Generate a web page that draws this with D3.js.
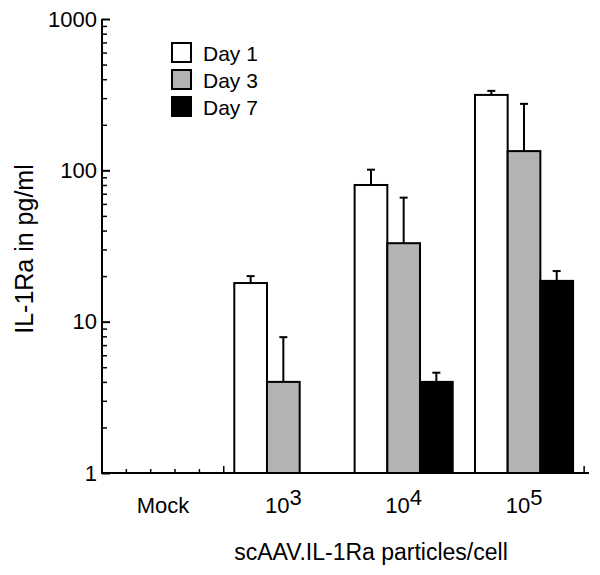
<!DOCTYPE html>
<html>
<head>
<meta charset="utf-8">
<script src="https://cdn.jsdelivr.net/npm/d3@7"></script>
<style>
  html, body { margin: 0; padding: 0; background: #fff; }
  svg { display: block; }
  text { font-family: "Liberation Sans", Arial, Helvetica, sans-serif; fill: #000; }
</style>
</head>
<body>
<svg id="chart" width="600" height="575"></svg>
<script>
// ---- data ----
const categories = ["Mock", "1e3", "1e4", "1e5"];
const tickBase = ["Mock", "10", "10", "10"];
const tickExp = ["", "3", "4", "5"];
const seriesNames = ["Day 1", "Day 3", "Day 7"];
const seriesColors = ["#ffffff", "#b3b3b3", "#000000"];
const day1 = [null, 18.0, 80, 315];
const day1Sd = [null, 2.0, 21, 20];
const day3 = [null, 4.0, 33, 134];
const day3Sd = [null, 3.9, 33, 141];
const day7 = [null, null, 4.0, 18.6];
const day7Sd = [null, null, 0.6, 3.0];
const yMajorTicks = [1, 10, 100, 1000];
const yTickLabels = ["1", "10", "100", "1000"];
const xTitle = "scAAV.IL-1Ra particles/cell";
const yTitle = "IL-1Ra in pg/ml";
const xSmallTicks = [1, 2, 3, 4];
const xTallTicks = [5, 19.8];

const seriesValues = [day1, day3, day7];
const seriesSd = [day1Sd, day3Sd, day7Sd];

const svg = d3.select("#chart");
const axisLeftX = 102, axisRightX = 589;
const y = d3.scaleLog().domain([1, 1000]).range([473, 19]);
const x0 = d3.scaleBand().domain(categories).range([103, 584])
  .paddingInner(0.185).paddingOuter(0.091);
const x1 = d3.scaleBand().domain(seriesNames).range([0, x0.bandwidth()]);
const xAxisUnits = d3.scaleLinear().domain([0, 20]).range([axisLeftX, axisRightX]);

const barData = [];
categories.forEach((c, i) => {
  seriesNames.forEach((s, j) => {
    const v = seriesValues[j][i];
    if (v != null) barData.push({ c, s, j, v, sd: seriesSd[j][i] });
  });
});

const g = svg.append("g");
g.selectAll("line.st").data(xSmallTicks).join("line")
  .attr("x1", d => xAxisUnits(d)).attr("x2", d => xAxisUnits(d))
  .attr("y1", y(1)).attr("y2", y(1) - 4)
  .attr("stroke", "#000").attr("stroke-width", 1.5);
g.selectAll("line.tt").data(xTallTicks).join("line")
  .attr("x1", d => xAxisUnits(d)).attr("x2", d => xAxisUnits(d))
  .attr("y1", y(1)).attr("y2", y(1) - 7)
  .attr("stroke", "#000").attr("stroke-width", 1.5);

const eb = svg.append("g");
barData.forEach(d => {
  const cx = x0(d.c) + x1(d.s) + x1.bandwidth() / 2;
  eb.append("line")
    .attr("x1", cx).attr("x2", cx)
    .attr("y1", y(d.v)).attr("y2", y(d.v + d.sd))
    .attr("stroke", "#000").attr("stroke-width", 2);
  eb.append("line")
    .attr("x1", cx - 4).attr("x2", cx + 4)
    .attr("y1", y(d.v + d.sd)).attr("y2", y(d.v + d.sd))
    .attr("stroke", "#000").attr("stroke-width", 2);
});

svg.append("g").selectAll("rect").data(barData).join("rect")
  .attr("x", d => x0(d.c) + x1(d.s))
  .attr("width", x1.bandwidth())
  .attr("y", d => y(d.v))
  .attr("height", d => y(1) - y(d.v))
  .attr("fill", d => seriesColors[d.j])
  .attr("stroke", "#000").attr("stroke-width", 2);

const yMinor = [];
for (let dec = 1; dec < 1000; dec *= 10) for (let k = 2; k <= 9; k++) yMinor.push(dec * k);

const yAxisG = svg.append("g").attr("transform", `translate(${axisLeftX},0)`);
yAxisG.call(d3.axisLeft(y).tickValues(yMajorTicks)
    .tickFormat((d, i) => yTickLabels[i]).tickSizeInner(-8).tickSizeOuter(0).tickPadding(5))
  .call(a => a.select(".domain").remove())
  .call(a => a.selectAll(".tick line").attr("stroke-width", 2))
  .call(a => a.selectAll(".tick text")
    .style("font-family", '"Liberation Sans", Arial, sans-serif')
    .style("font-size", "22px").attr("fill", "#000"));
const yMinorG = svg.append("g").attr("transform", `translate(${axisLeftX},0)`);
yMinorG.call(d3.axisLeft(y).tickValues(yMinor).tickFormat("").tickSizeInner(-5).tickSizeOuter(0))
  .call(a => a.select(".domain").remove())
  .call(a => a.selectAll(".tick line").attr("stroke-width", 1.5));
svg.append("line")
  .attr("x1", axisLeftX).attr("x2", axisLeftX)
  .attr("y1", y(1000)).attr("y2", y(1) + 1)
  .attr("stroke", "#000").attr("stroke-width", 2);

svg.append("line")
  .attr("x1", axisLeftX - 1).attr("x2", axisRightX)
  .attr("y1", y(1)).attr("y2", y(1))
  .attr("stroke", "#000").attr("stroke-width", 2);

const xl = svg.append("g");
categories.forEach((c, i) => {
  const t = xl.append("text")
    .attr("x", x0(c) + x0.bandwidth() / 2)
    .attr("y", 513)
    .attr("text-anchor", "middle")
    .style("font-size", "22px");
  t.append("tspan").text(tickBase[i]);
  if (tickExp[i]) t.append("tspan").attr("dy", -8).text(tickExp[i]);
});

svg.append("text")
  .attr("x", 371).attr("y", 560)
  .attr("text-anchor", "middle")
  .style("font-size", "23px")
  .text(xTitle);
svg.append("text")
  .attr("transform", "translate(33,249) rotate(-90)")
  .attr("text-anchor", "middle")
  .style("font-size", "25px")
  .text(yTitle);

const lg = svg.append("g").attr("transform", "translate(172,43)");
seriesNames.forEach((s, j) => {
  lg.append("rect")
    .attr("x", 0).attr("y", j * 27)
    .attr("width", 19).attr("height", 19)
    .attr("fill", seriesColors[j]).attr("stroke", "#000").attr("stroke-width", 2);
  lg.append("text")
    .attr("x", 31).attr("y", j * 27 + 18)
    .style("font-size", "21px")
    .text(s);
});
</script>
</body>
</html>
